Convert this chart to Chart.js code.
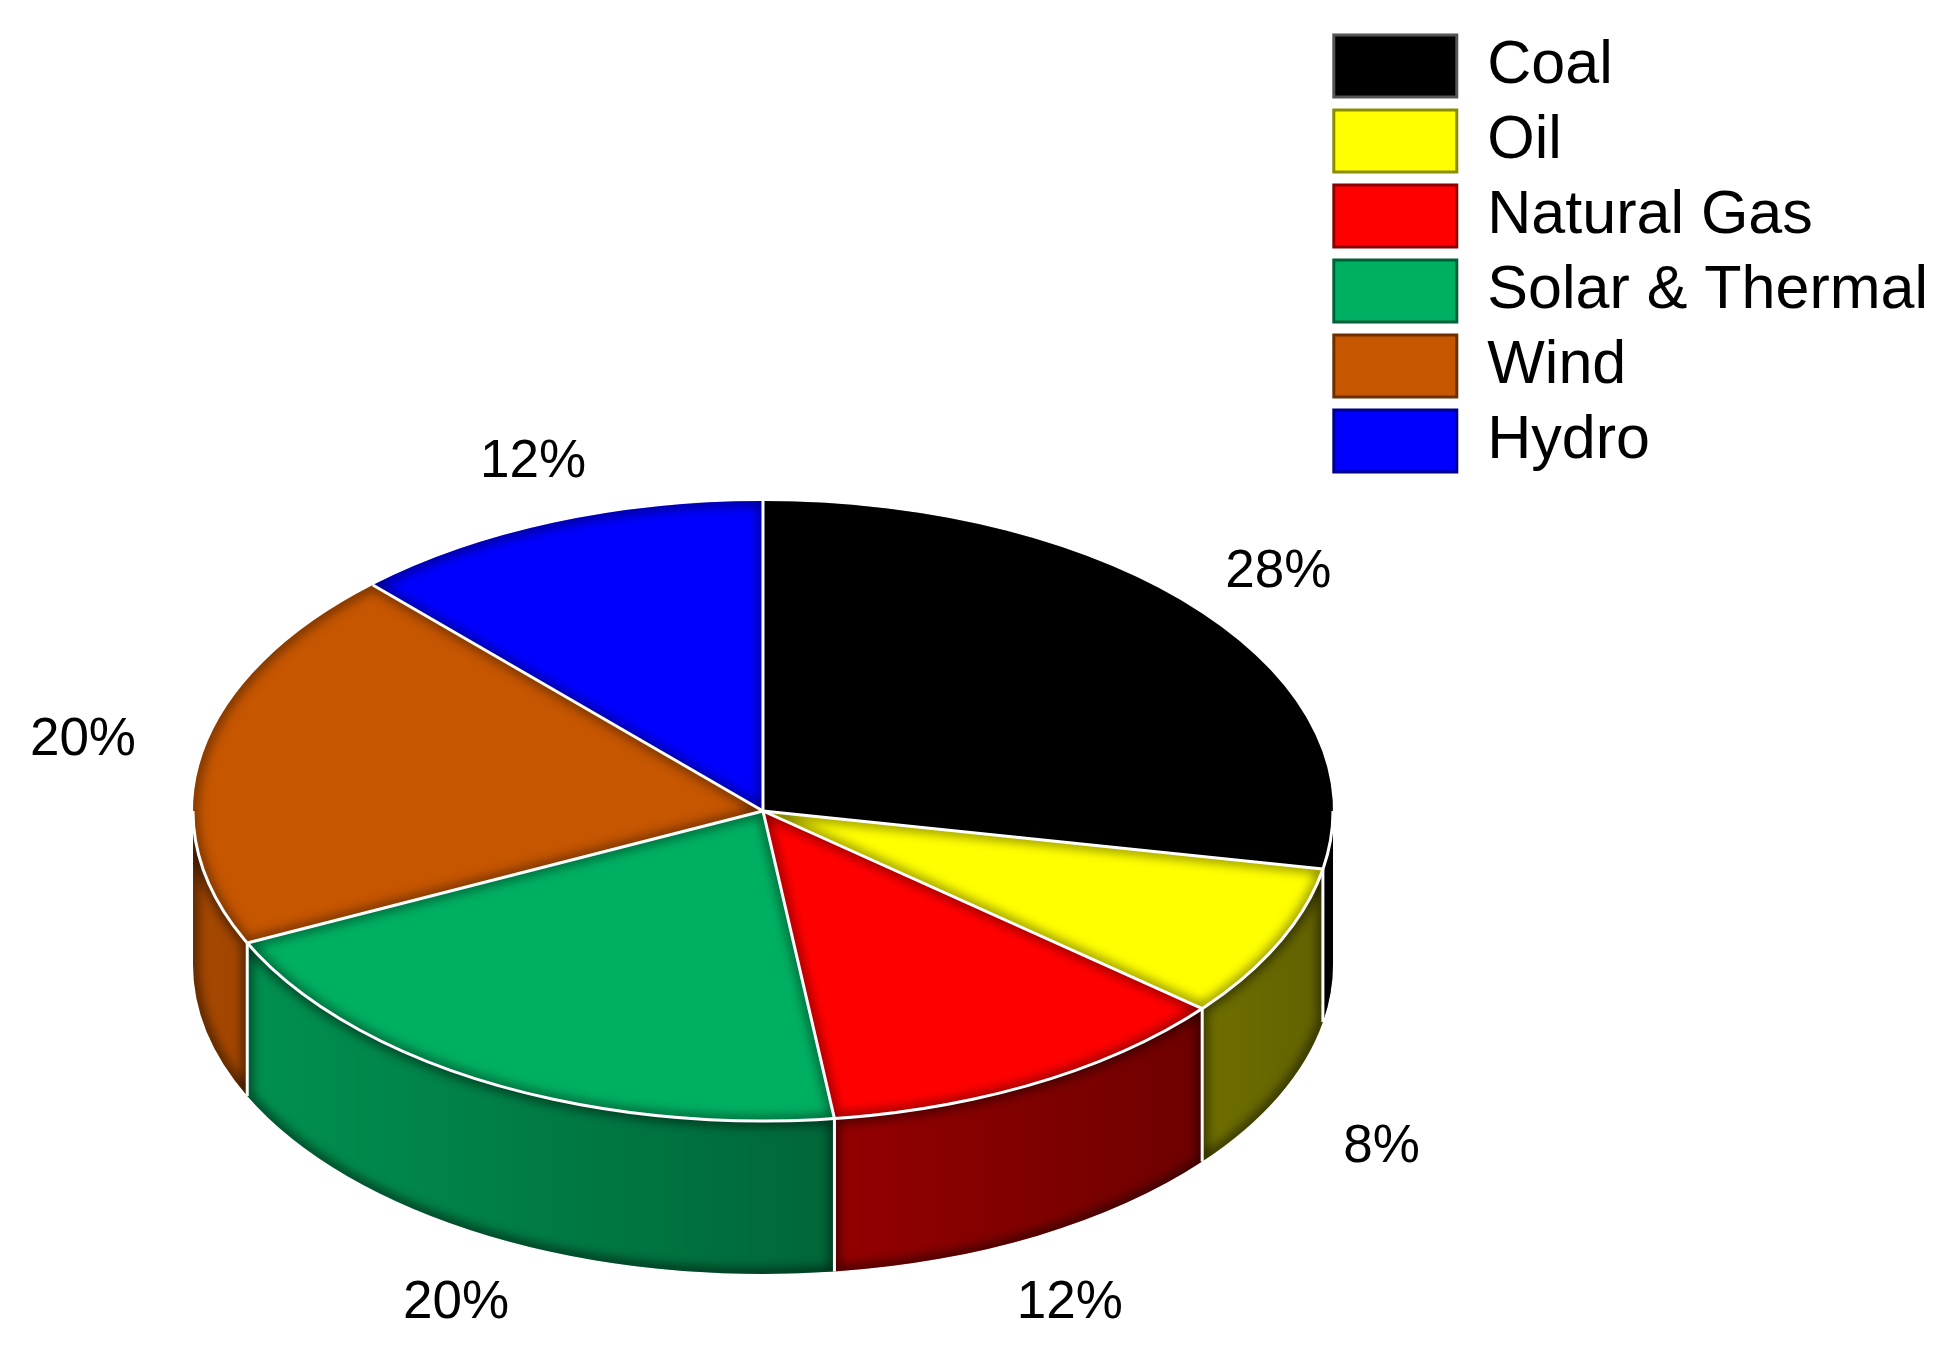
<!DOCTYPE html>
<html>
<head>
<meta charset="utf-8">
<script src="https://cdn.jsdelivr.net/npm/chart.js@4.4.1/dist/chart.umd.min.js"></script>
<style>
  html, body { margin: 0; padding: 0; background: #ffffff; }
  #wrap { width: 1947px; height: 1358px; position: relative; }
</style>
</head>
<body>
<div id="wrap"><canvas id="c"></canvas></div>
<script>
// ---- data ----
const categories = ['Coal', 'Oil', 'Natural Gas', 'Solar & Thermal', 'Wind', 'Hydro'];
const shares = [28, 8, 12, 20, 20, 12];
const sliceColors = ['#000000', '#FFFF00', '#FF0000', '#00B062', '#C65600', '#0000FF'];

// ---- view / projection settings (style, not data) ----
const VIEW = {
  cx: 763, cy: 811, rx: 570, ry: 310, depth: 153,
  // label placement around the projected pie
  kx0: 1.024, kx1: 0.194, kyBack: 1.21, kyFront: 1.12, kDepth: 1.23
};
const FONT = '"Liberation Sans", Arial, Helvetica, sans-serif';

function rgbOf(hex) {
  const n = parseInt(hex.slice(1), 16);
  return [(n >> 16) & 255, (n >> 8) & 255, n & 255];
}
function shade(hex, f, a) {
  const [r, g, b] = rgbOf(hex);
  const al = a === undefined ? 1 : a;
  return `rgba(${Math.round(r * f)},${Math.round(g * f)},${Math.round(b * f)},${al})`;
}

function innerShadow(ctx, pathFn, color, blur, width) {
  ctx.save();
  pathFn();
  ctx.clip();
  ctx.shadowColor = color;
  ctx.shadowBlur = blur;
  ctx.shadowOffsetX = 6000;
  ctx.shadowOffsetY = 0;
  ctx.translate(-6000, 0);
  pathFn();
  ctx.lineWidth = width;
  ctx.strokeStyle = '#000';
  ctx.stroke();
  ctx.restore();
}

function arcAngles(arc) {
  const p = arc.getProps(['startAngle', 'endAngle'], true);
  return [p.startAngle, p.endAngle];
}

const pie3d = {
  id: 'pie3d',
  beforeDatasetsDraw(chart) {
    const ctx = chart.ctx;
    const meta = chart.getDatasetMeta(0);
    const { cx, cy, rx, ry, depth } = VIEW;
    const PI = Math.PI;

    // side walls (front half only)
    const boundaries = [];
    meta.data.forEach((arc, i) => {
      const [s, e] = arcAngles(arc);
      const col = chart.data.datasets[0].backgroundColor[i];
      for (const off of [-2 * PI, 0, 2 * PI]) {
        const a = Math.max(s, off), b = Math.min(e, off + PI);
        if (b <= a) continue;
        const path = () => {
          ctx.beginPath();
          ctx.moveTo(cx + rx * Math.cos(a), cy + ry * Math.sin(a));
          ctx.ellipse(cx, cy, rx, ry, 0, a, b, false);
          ctx.lineTo(cx + rx * Math.cos(b), cy + depth + ry * Math.sin(b));
          ctx.ellipse(cx, cy + depth, rx, ry, 0, b, a, true);
          ctx.closePath();
        };
        const g = ctx.createLinearGradient(cx - rx, 0, cx + rx, 0);
        g.addColorStop(0, shade(col, 0.84));
        g.addColorStop(1, shade(col, 0.38));
        ctx.save();
        path();
        ctx.fillStyle = g;
        ctx.fill();
        ctx.restore();
        innerShadow(ctx, path, 'rgba(0,0,0,0.9)', 12, 6);
      }
      boundaries.push(s);
    });
    // white separators on walls
    ctx.save();
    ctx.strokeStyle = '#ffffff';
    ctx.lineWidth = 3;
    boundaries.forEach(s => {
      let t = ((s % (2 * PI)) + 2 * PI) % (2 * PI);
      if (t > 0.001 && t < PI - 0.001) {
        const x = cx + rx * Math.cos(t), y = cy + ry * Math.sin(t);
        ctx.beginPath();
        ctx.moveTo(x, y);
        ctx.lineTo(x, y + depth);
        ctx.stroke();
      }
    });
    ctx.restore();

    // project the library's circular pie onto the ellipse
    const a0 = meta.data[0];
    const r = a0.outerRadius;
    ctx.save();
    ctx.translate(cx, cy);
    ctx.scale(rx / r, ry / r);
    ctx.translate(-a0.x, -a0.y);
  },
  afterDatasetsDraw(chart) {
    const ctx = chart.ctx;
    ctx.restore();
    const meta = chart.getDatasetMeta(0);
    const { cx, cy, rx, ry, depth } = VIEW;
    const PI = Math.PI;

    // inner shading on the top faces
    meta.data.forEach((arc, i) => {
      const [s, e] = arcAngles(arc);
      const path = () => {
        ctx.beginPath();
        ctx.moveTo(cx, cy);
        ctx.lineTo(cx + rx * Math.cos(s), cy + ry * Math.sin(s));
        ctx.ellipse(cx, cy, rx, ry, 0, s, e, false);
        ctx.closePath();
      };
      innerShadow(ctx, path, 'rgba(0,0,0,0.7)', 12, 6);
    });

    // white borders on top
    ctx.save();
    ctx.strokeStyle = '#ffffff';
    ctx.lineWidth = 3;
    ctx.lineCap = 'butt';
    meta.data.forEach(arc => {
      const [s] = arcAngles(arc);
      ctx.beginPath();
      ctx.moveTo(cx, cy);
      ctx.lineTo(cx + rx * Math.cos(s), cy + ry * Math.sin(s));
      ctx.stroke();
    });
    ctx.beginPath();
    ctx.ellipse(cx, cy, rx, ry, 0, 0, PI, false);
    ctx.stroke();
    ctx.restore();

    // percentage labels
    const vals = chart.data.datasets[0].data;
    const total = vals.reduce((p, v) => p + v, 0);
    ctx.save();
    ctx.font = `53px ${FONT}`;
    ctx.fillStyle = '#000000';
    ctx.textAlign = 'center';
    ctx.textBaseline = 'middle';
    meta.data.forEach((arc, i) => {
      const [s, e] = arcAngles(arc);
      const m = (s + e) / 2;
      const ux = Math.cos(m), uy = Math.sin(m);
      const x = cx + (VIEW.kx0 + VIEW.kx1 * Math.abs(ux)) * rx * ux;
      const y = uy > 0
        ? cy + VIEW.kyFront * ry * uy + VIEW.kDepth * depth
        : cy + VIEW.kyBack * ry * uy;
      ctx.fillText(Math.round(vals[i] / total * 100) + '%', x, y);
    });
    ctx.restore();
  }
};

new Chart(document.getElementById('c'), {
  type: 'pie',
  data: {
    labels: categories,
    datasets: [{
      data: shares,
      backgroundColor: sliceColors,
      borderWidth: 0,
      radius: 570,
      clip: false
    }]
  },
  options: {
    responsive: true,
    maintainAspectRatio: false,
    animation: false,
    devicePixelRatio: 1,
    events: [],
    layout: { padding: { top: 22, right: 9, left: 0, bottom: 0 } },
    plugins: {
      tooltip: { enabled: false },
      legend: {
        position: 'right',
        align: 'start',
        labels: {
          boxWidth: 123,
          boxHeight: 62,
          padding: 13,
          color: '#000000',
          font: { family: FONT, size: 61 },
          generateLabels(chart) {
            return chart.data.labels.map((t, i) => {
              const c = chart.data.datasets[0].backgroundColor[i];
              return {
                text: t,
                fillStyle: c,
                strokeStyle: c === '#000000' ? '#555555' : shade(c, 0.55),
                lineWidth: 3,
                hidden: false,
                index: i,
                fontColor: '#000000'
              };
            });
          }
        }
      }
    }
  },
  plugins: [pie3d]
});
</script>
</body>
</html>
